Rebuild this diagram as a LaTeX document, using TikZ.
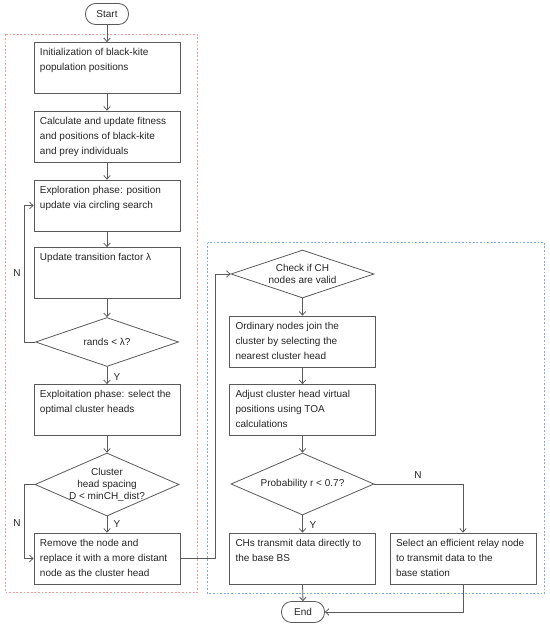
\documentclass[tikz,border=0pt]{standalone}
\usepackage{fontspec}
\setmainfont{Liberation Sans}
\usetikzlibrary{shapes.geometric,arrows.meta}
\definecolor{ln}{HTML}{5A5A5A}
\definecolor{redd}{HTML}{F39A9A}
\definecolor{blued}{HTML}{80A8EE}
\newcommand{\bxt}[1]{\parbox[c][39bp][t]{134bp}{\raggedright #1}}
\tikzset{
  proc/.style={draw=ln, line width=0.8bp, rectangle, inner xsep=6bp, inner ysep=6bp,
    font=\fontsize{10bp}{15bp}\selectfont, text=black!85},
  dia/.style={draw=ln, line width=0.8bp, diamond, inner sep=0pt},
  dlbl/.style={align=center, font=\fontsize{10bp}{12bp}\selectfont, text=black!85},
  term/.style={draw=ln, line width=0.8bp, rectangle, rounded corners=10bp, minimum width=43bp,
    minimum height=21bp, inner sep=0pt, font=\fontsize{10bp}{12bp}\selectfont, text=black!85},
  arr/.style={draw=ln, line width=0.8bp, -{Straight Barb[length=3.5bp,width=6.5bp]}},
  yn/.style={font=\fontsize{10bp}{12bp}\selectfont, text=black!85, inner sep=0pt},
  reddash/.style={draw=redd, line width=1.1bp, dash pattern=on 1.8bp off 1.8bp},
  bluedash/.style={draw=blued, line width=1.1bp, dash pattern=on 1.8bp off 1.8bp}
}
\begin{document}
\begin{tikzpicture}[x=1bp,y=-1bp]
\useasboundingbox (0,0) rectangle (550,628);
\fill[white] (0,0) rectangle (550,628);
% dashed frames
\draw[reddash] (5.5,34.5) rectangle (197.5,592.5);
\draw[bluedash] (207.5,242.5) rectangle (544.5,593.5);
% left column
\node[term] (start) at (107,14) {Start};
\node[proc] (b1) at (107,68) {\bxt{Initialization of black-kite\\population positions}};
\node[proc] (b2) at (107,136.5) {\bxt{Calculate and update fitness\\and positions of black-kite\\and prey individuals}};
\node[proc] (b3) at (107,205.5) {\bxt{Exploration phase: position\\update via circling search}};
\node[proc] (b4) at (107,273) {\bxt{Update transition factor λ}};
\node[dia, minimum width=143bp, minimum height=49bp,
  label={[dlbl]center:{rands < λ?}}] (d1) at (107,342) {};
\node[proc] (b5) at (107,410) {\bxt{Exploitation phase: select the\\optimal cluster heads}};
\node[dia, minimum width=144bp, minimum height=63bp,
  label={[dlbl]center:{Cluster\\head spacing\\D < minCH\_dist?}}] (d2) at (107,484.5) {};
\node[proc] (b6) at (107,558.5) {\bxt{Remove the node and\\replace it with a more distant\\node as the cluster head}};
% right column
\node[dia, minimum width=143bp, minimum height=48bp,
  label={[dlbl]center:{Check if CH\\nodes are valid}}] (d3) at (302.5,274) {};
\node[proc] (b7) at (302.5,341.5) {\bxt{Ordinary nodes join the\\cluster by selecting the\\nearest cluster head}};
\node[proc] (b8) at (302.5,410) {\bxt{Adjust cluster head virtual\\positions using TOA\\calculations}};
\node[dia, minimum width=143bp, minimum height=62bp,
  label={[dlbl]center:{Probability r < 0.7?}}] (d4) at (302.5,484) {};
\node[proc] (b9) at (302.5,558.5) {\bxt{CHs transmit data directly to\\the base BS}};
\node[proc] (b10) at (463,558.5) {\bxt{Select an efficient relay node\\to transmit data to the\\base station}};
\node[term] (end) at (303,612) {End};
% coordinates
\coordinate (l1a) at (24,342);
\coordinate (l1b) at (24,205.5);
\coordinate (l2a) at (24,484.5);
\coordinate (l2b) at (24,558.5);
\coordinate (c1) at (215,558.5);
\coordinate (c2) at (215,274);
\coordinate (n1) at (463,484);
\coordinate (e1) at (463,612);
% connectors
\draw[arr] (start) -- (b1);
\draw[arr] (b1) -- (b2);
\draw[arr] (b2) -- (b3);
\draw[arr] (b3) -- (b4);
\draw[arr] (b4) -- (d1.north);
\draw[arr] (d1.south) -- (b5);
\draw[arr] (b5) -- (d2.north);
\draw[arr] (d2.south) -- (b6);
\draw[arr] (d1.west) -- (l1a) -- (l1b) -- (b3.west);
\draw[arr] (d2.west) -- (l2a) -- (l2b) -- (b6.west);
\draw[arr] (b6.east) -- (c1) -- (c2) -- (d3.west);
\draw[arr] (d3.south) -- (b7);
\draw[arr] (b7) -- (b8);
\draw[arr] (b8) -- (d4.north);
\draw[arr] (d4.south) -- (b9);
\draw[arr] (d4.east) -- (n1) -- (b10.north);
\draw[arr] (b9.south) -- (end.north);
\draw[arr] (b10.south) -- (e1) -- (end.east);
% labels
\node[yn] (y1) at (117,377) {Y};
\node[yn] (y2) at (117,524) {Y};
\node[yn] (nl1) at (17,273) {N};
\node[yn] (nl2) at (17,523) {N};
\node[yn] (y3) at (313,525) {Y};
\node[yn] (nl3) at (418,475) {N};
\end{tikzpicture}
\end{document}
